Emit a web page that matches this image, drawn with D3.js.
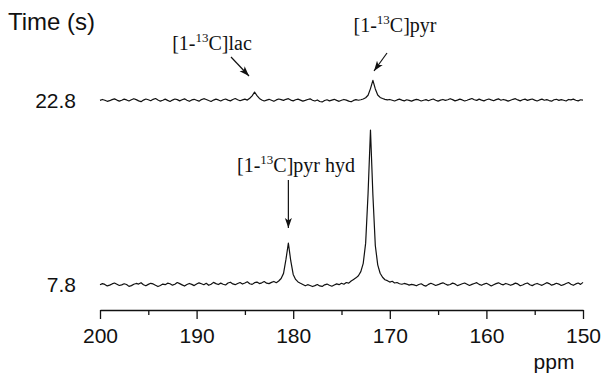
<!DOCTYPE html>
<html>
<head>
<meta charset="utf-8">
<script src="https://cdn.jsdelivr.net/npm/d3@7"></script>
<style>
  body { margin: 0; background: #fff; }
  svg { display: block; }
  .sans { font-family: Arial, "Liberation Sans", Helvetica, sans-serif; fill: #111; }
  .serif { font-family: "Times New Roman", "Liberation Serif", "DejaVu Serif", serif; fill: #111; }
</style>
</head>
<body>
<svg id="canvas" width="614" height="379"></svg>
<script>
// spectra sampled every 0.25 ppm from 200 down to 150
let ppmStart = 200
let ppmStep = 0.25

// spectrum at 7.8 s (arbitrary units, big pyruvate peak = 100)
let spec78 = [
  0.2, 0.9, 0.4, -0.6, -0.1, 0.7, 1.3, 0.5, -0.3, 0.1,
  0.8, 0.3, -0.9, -0.4, 0.5, 1.0, 0.6, 1.5, 0.2, -0.5,
  0.4, 1.1, 0.7, -0.2, -1.0, -0.3, 0.6, 0.2, 1.2, 0.8,
  -0.1, 0.5, 1.6, 0.9, 0.1, -0.7, 0.3, 1.0, 0.4, -0.4,
  0.6, 1.4, 0.8, 0.2, 1.1, -0.2, 0.5, 1.7, 0.9, 0.3,
  1.2, 0.5, 0.0, 1.3, 1.8, 0.7, 0.2, 1.0, 1.6, 0.6,
  1.3, 2.1, 0.8, 0.4, 1.5, 1.9, 0.9, 1.4, 2.2, 1.2,
  0.9, 1.7, 2.3, 1.5, 2.6, 4.2, 7.5, 16.5, 27.0, 15.5,
  6.8, 3.6, 2.0, 1.1, 0.3, -0.5, 0.2, -0.3, -1.0, -0.4,
  0.3, -0.6, -0.9, 0.1, 0.6, -0.2, -0.8, 0.0, 0.7, 0.2,
  1.1, 0.5, 1.6, 1.2, 2.6, 3.6, 4.6, 6.0, 8.6, 14.0,
  27.0, 59.0, 100, 58.0, 25.5, 13.0, 7.6, 5.0, 3.4, 2.8,
  1.9, 2.4, 1.3, 1.6, 0.8, 0.5, 1.0, 0.6, -0.1, 0.4,
  0.1, -0.5, 0.3, 0.8, -0.2, -0.7, 0.4, 1.1, 0.5, -0.3,
  0.2, 0.9, 1.4, 0.6, -0.1, 0.3, 1.2, 0.7, -0.4, 0.2,
  0.8, 1.3, 0.5, -0.3, 0.4, 1.0, 1.5, 0.4, -0.2, 0.6,
  1.1, 0.3, -0.6, 0.2, 0.9, 1.4, 0.6, 0.1, 1.0, 0.5,
  -0.2, 0.4, 1.2, 0.7, -0.5, 0.0, 0.8, 1.3, 0.2, -0.4,
  0.5, 1.0, 0.3, -0.2, 0.6, 1.5, 0.9, -0.1, 0.4, 1.1,
  0.6, -0.3, 0.2, 1.0, 1.6, 0.5, -0.2, 0.7, 1.3, 0.4,
  1.7
]

// spectrum at 22.8 s
let spec228 = [
  0.1, 0.7, 0.2, -0.5, -0.1, 0.6, 1.1, 0.3, -0.4, 0.2,
  0.9, 0.4, -0.3, 0.5, 1.2, 0.6, -0.2, -0.7, 0.3, 1.0,
  0.5, -0.1, 0.8, 1.3, 0.4, -0.4, 0.2, 0.9, 0.1, -0.6,
  0.3, 1.0, 0.6, -0.2, 0.5, 1.1, 0.2, -0.5, 0.4, 0.8,
  0.2, -0.4, 0.6, 1.2, 0.7, 0.0, -0.6, 0.3, 0.9, 0.4,
  -0.3, 0.5, 1.0, 0.3, -0.2, 0.7, 1.3, 0.5, -0.1, 0.4,
  0.9, 0.3, 1.5, 3.0, 5.5, 3.2, 1.4, 0.4, -0.3, 0.3,
  0.8, 0.2, -0.5, 0.4, 1.0, 0.6, 0.1, 0.8, 1.2, 0.3,
  -0.2, 0.5, 0.9, 0.3, -0.4, 0.1, 0.7, 1.1, 0.2, -0.3,
  0.4, -0.6, -0.9, 0.0, 0.5, -0.2, 0.3, 0.8, 0.1, -0.5,
  0.2, 0.7, 0.3, -0.4, -0.8, 0.1, 0.6, 0.2, 0.5, 1.0,
  1.8, 3.4, 7.7, 13.0, 7.5, 3.6, 2.0, 1.3, 0.8, 0.4,
  0.7, 0.2, -0.3, 0.4, 0.9, 0.3, -0.2, 0.5, 0.1, -0.4,
  0.3, 0.8, 0.4, -0.3, 0.2, 0.6, -0.1, 0.5, 1.0, 0.2,
  -0.4, 0.3, 0.7, 0.1, 0.5, 1.2, 0.6, -0.2, 0.3, 0.9,
  0.4, -0.3, 0.2, 0.8, 1.3, 0.5, 0.1, 0.9, 0.3, -0.2,
  0.5, 1.0, 0.4, -0.1, 0.6, 1.1, 0.2, 0.7, 0.3, -0.4,
  0.2, 0.8, 1.2, 0.4, -0.2, 0.5, 0.9, 0.1, 0.6, 1.0,
  0.3, -0.3, 0.4, 0.9, 0.2, 0.6, 0.0, -0.4, 0.5, 0.8,
  0.1, 0.6, 0.2, -0.3, 0.7, 0.4, 0.9, 0.2, -0.2, 0.5,
  0.3
]

let traceLabels = ["7.8", "22.8"]
let traceOffsets = [0, 119]
let majorTicks = [200, 190, 180, 170, 160, 150]
let minorTicks = [195, 185, 175, 165, 155]

// peak annotations, the "13" is drawn as a superscript
let annotations = [
  { pre: "[1-", sup: "13", post: "C]lac", ppm: 184.0, trace: 1 },
  { pre: "[1-", sup: "13", post: "C]pyr", ppm: 171.75, trace: 1 },
  { pre: "[1-", sup: "13", post: "C]pyr hyd", ppm: 180.5, trace: 0 }
]

let canvas = d3.select("#canvas")

let x = d3.scaleLinear().domain([200, 150]).range([100, 583])
let y = d3.scaleLinear().domain([0, 100]).range([285, 130])

let toPoints = (arr) => arr.map((v, i) => [ppmStart - i * ppmStep, v])
let traces = [spec78, spec228]

let line = d3.line()
    .x(d => x(d[0]))
    .y(d => y(d[1]))

//Draws the two spectra
traces.forEach((arr, k) => {
    canvas.append("path")
        .datum(toPoints(arr).map(p => [p[0], p[1] + traceOffsets[k]]))
        .attr("d", line)
        .attr("fill", "none")
        .attr("stroke", "#111")
        .attr("stroke-width", 1.2)
        .attr("stroke-linejoin", "round")

    canvas.append("text")
        .attr("class", "sans")
        .attr("x", 76)
        .attr("y", y(traceOffsets[k]) + 7)
        .attr("text-anchor", "end")
        .style("font-size", "21px")
        .text(traceLabels[k])
})

canvas.append("text")
    .attr("class", "sans")
    .attr("x", 8)
    .attr("y", 30)
    .style("font-size", "24px")
    .text("Time (s)")

//Axis with major and minor ticks
let axisG = canvas.append("g").attr("transform", "translate(0,310)")
axisG.call(d3.axisBottom(x)
    .tickValues(majorTicks)
    .tickSize(9)
    .tickSizeOuter(0)
    .tickPadding(9)
    .tickFormat(d3.format("d")))
let minorG = canvas.append("g").attr("transform", "translate(0,310)")
minorG.call(d3.axisBottom(x)
    .tickValues(minorTicks)
    .tickSize(5)
    .tickSizeOuter(0)
    .tickFormat(""))
minorG.select(".domain").remove()
canvas.selectAll(".tick line").attr("stroke", "#111").attr("stroke-width", 1.3)
axisG.select(".domain").attr("stroke", "#111").attr("stroke-width", 1.3)
axisG.selectAll(".tick text")
    .attr("class", "sans")
    .attr("fill", "#111")
    .style("font-size", "21px")
    .style("font-family", "Arial, 'Liberation Sans', sans-serif")

canvas.append("text")
    .attr("class", "sans")
    .attr("x", 554)
    .attr("y", 369)
    .attr("text-anchor", "middle")
    .style("font-size", "21px")
    .text("ppm")

//Arrow marker
canvas.append("defs").append("marker")
    .attr("id", "arrow")
    .attr("viewBox", "0 -5 10 10")
    .attr("refX", 10)
    .attr("refY", 0)
    .attr("markerWidth", 10)
    .attr("markerHeight", 10)
    .attr("markerUnits", "userSpaceOnUse")
    .attr("orient", "auto")
    .append("path")
    .attr("d", "M0,-3.5L10,0L0,3.5L2.5,0Z")
    .attr("fill", "#111")

// label position and arrow ends for each annotation
let labelLayout = [
    { lx: 212, ly: 50, from: [231, 57], to: [249, 76] },
    { lx: 395, ly: 32, from: [387, 53], to: [374, 71] },
    { lx: 296, ly: 172, from: [0, 180], to: [0, 228] }
]

annotations.forEach((a, i) => {
    let lay = labelLayout[i]
    let t = canvas.append("text")
        .attr("class", "serif")
        .attr("x", lay.lx)
        .attr("y", lay.ly)
        .attr("text-anchor", "middle")
        .style("font-size", "20px")
    t.append("tspan").text(a.pre)
    t.append("tspan").attr("dy", -8).style("font-size", "13px").text(a.sup)
    t.append("tspan").attr("dy", 8).text(a.post)

    let x1 = a.trace === 0 ? x(a.ppm) : lay.from[0]
    let x2 = a.trace === 0 ? x(a.ppm) : lay.to[0]
    canvas.append("line")
        .attr("x1", x1).attr("y1", lay.from[1])
        .attr("x2", x2).attr("y2", lay.to[1])
        .attr("stroke", "#111")
        .attr("stroke-width", 1.2)
        .attr("marker-end", "url(#arrow)")
})
</script>
</body>
</html>
